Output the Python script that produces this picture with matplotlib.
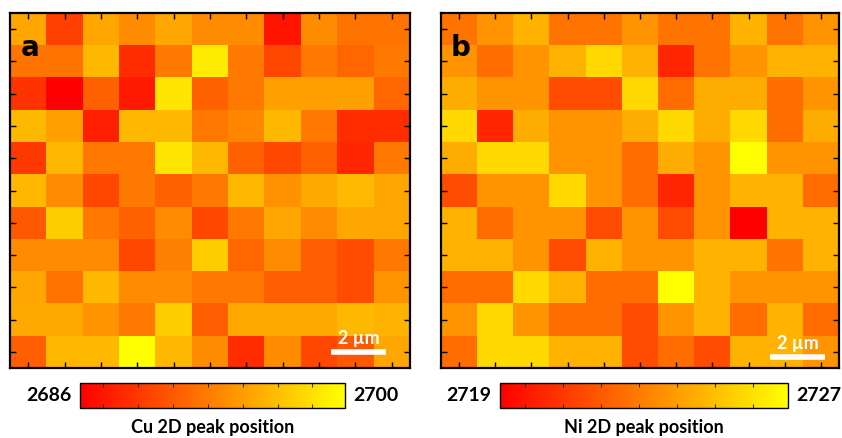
import matplotlib
matplotlib.use("Agg")
import matplotlib.pyplot as plt
import numpy as np

# Cu 2D peak position map (rows top -> bottom)
cu_peak = [
    [2695.1, 2689.5, 2695.1, 2693.7, 2695.1, 2693.7, 2693.7, 2687.1, 2693.7, 2692.3, 2692.3],
    [2692.3, 2692.3, 2696.1, 2688.5, 2692.7, 2698.9, 2692.6, 2689.9, 2692.6, 2691.6, 2692.6],
    [2688.8, 2686.0, 2691.3, 2687.4, 2698.6, 2691.3, 2692.6, 2694.8, 2694.8, 2694.8, 2691.6],
    [2696.1, 2694.8, 2687.7, 2696.1, 2696.1, 2692.7, 2693.4, 2696.1, 2692.6, 2688.5, 2688.5],
    [2689.1, 2696.1, 2692.6, 2692.6, 2698.6, 2696.1, 2691.3, 2689.9, 2691.3, 2688.1, 2692.6],
    [2696.1, 2693.7, 2689.9, 2692.6, 2691.3, 2692.6, 2696.1, 2694.0, 2695.2, 2696.2, 2695.1],
    [2690.9, 2697.2, 2692.6, 2691.3, 2693.7, 2689.9, 2692.6, 2695.1, 2693.7, 2695.1, 2695.1],
    [2693.7, 2693.7, 2693.7, 2689.9, 2693.0, 2697.2, 2691.6, 2693.7, 2691.2, 2690.2, 2692.6],
    [2695.1, 2692.3, 2696.1, 2693.7, 2693.7, 2692.6, 2692.6, 2691.2, 2691.2, 2690.2, 2694.1],
    [2695.2, 2695.2, 2694.1, 2692.6, 2697.2, 2691.2, 2695.2, 2695.2, 2695.2, 2696.1, 2695.8],
    [2691.2, 2696.1, 2696.1, 2700.0, 2696.1, 2693.7, 2688.5, 2693.7, 2689.9, 2690.9, 2695.1],
]

# Ni 2D peak position map
ni_peak = [
    [2722.6, 2723.6, 2724.6, 2722.6, 2722.6, 2723.6, 2722.6, 2722.6, 2724.6, 2722.6, 2723.6],
    [2723.6, 2722.4, 2723.6, 2724.6, 2725.8, 2724.6, 2720.2, 2722.6, 2723.6, 2724.6, 2724.6],
    [2724.4, 2723.6, 2723.6, 2721.4, 2721.4, 2725.8, 2722.4, 2724.4, 2724.4, 2722.4, 2723.6],
    [2725.8, 2720.2, 2724.4, 2723.6, 2723.6, 2724.4, 2725.8, 2724.4, 2725.8, 2722.4, 2724.4],
    [2724.4, 2725.8, 2725.8, 2723.6, 2723.6, 2722.4, 2724.4, 2723.6, 2727.0, 2723.6, 2723.6],
    [2721.4, 2723.6, 2723.6, 2725.8, 2723.6, 2722.4, 2720.2, 2723.6, 2724.6, 2724.6, 2722.4],
    [2724.6, 2722.4, 2723.6, 2723.6, 2721.4, 2723.6, 2721.4, 2723.6, 2719.0, 2724.6, 2724.6],
    [2724.6, 2724.6, 2723.6, 2721.4, 2724.6, 2723.6, 2723.6, 2724.6, 2724.6, 2722.6, 2724.6],
    [2722.4, 2722.4, 2725.8, 2724.6, 2722.4, 2722.4, 2727.0, 2724.6, 2723.6, 2723.6, 2723.6],
    [2723.6, 2725.8, 2723.6, 2722.4, 2722.4, 2721.4, 2723.6, 2724.6, 2722.4, 2724.6, 2722.4],
    [2722.4, 2725.8, 2725.8, 2724.6, 2724.6, 2721.4, 2722.4, 2721.4, 2724.6, 2724.6, 2723.6],
]

panels = ["a", "b"]
ranges = [(2686, 2700), (2719, 2727)]
cbar_labels = ["Cu 2D peak position", "Ni 2D peak position"]
scale_text = "2 \u00b5m"

font = "Lato"
fig = plt.figure(figsize=(8.42, 4.38), dpi=100)

map_axes = [[10 / 842, 70 / 438, 400 / 842, 355 / 438],
            [441 / 842, 70 / 438, 398 / 842, 355 / 438]]
cbar_axes = [[80 / 842, 30 / 438, 265 / 842, 25 / 438],
             [500 / 842, 30 / 438, 288 / 842, 25 / 438]]

for i, data in enumerate([cu_peak, ni_peak]):
    vmin, vmax = ranges[i]
    ax = fig.add_axes(map_axes[i])
    im = ax.imshow(np.array(data), cmap="autumn", vmin=vmin, vmax=vmax,
                   aspect="auto", interpolation="nearest")
    n = len(data)
    ax.set_xticks(np.arange(n))
    ax.set_yticks(np.arange(n))
    ax.set_xticklabels([])
    ax.set_yticklabels([])
    ax.tick_params(direction="in", length=4, width=1, top=True, right=True)
    for s in ax.spines.values():
        s.set_linewidth(1.6)

    ax.text(0.05, 0.9, panels[i], transform=ax.transAxes, fontsize=20,
            fontweight="bold", family="DejaVu Sans", ha="center", va="center")

    # scale bar
    if i == 0:
        x0, x1, yb = 0.8025, 0.94, 0.045
    else:
        x0, x1, yb = 0.827, 0.965, 0.03
    ax.plot([x0, x1], [yb, yb], transform=ax.transAxes, color="white",
            lw=4, solid_capstyle="butt")
    ax.text((x0 + x1) / 2, yb + 0.015, scale_text, transform=ax.transAxes,
            color="white", fontsize=13, fontweight="bold", family=font,
            ha="center", va="bottom")

    cax = fig.add_axes(cbar_axes[i])
    cb = fig.colorbar(im, cax=cax, orientation="horizontal")
    fr = 0.088 + 0.1315 * np.arange(7)
    cb.set_ticks(vmin + (vmax - vmin) * fr)
    cax.set_xticklabels([])
    cax.tick_params(direction="in", length=3, width=0.8, top=True, bottom=True,
                    color="#333333")
    cb.outline.set_linewidth(1.0)

    bx, by, bw, bh = cbar_axes[i]
    fig.text(bx - 0.01, by + bh / 2, str(vmin), ha="right", va="center",
             fontsize=14, fontweight="bold", family=font)
    fig.text(bx + bw + 0.01, by + bh / 2, str(vmax), ha="left", va="center",
             fontsize=14, fontweight="bold", family=font)
    fig.text(bx + bw / 2, 0.004, cbar_labels[i], ha="center", va="bottom",
             fontsize=13, fontweight="bold", family=font)

fig.savefig("out.png", dpi=100)
